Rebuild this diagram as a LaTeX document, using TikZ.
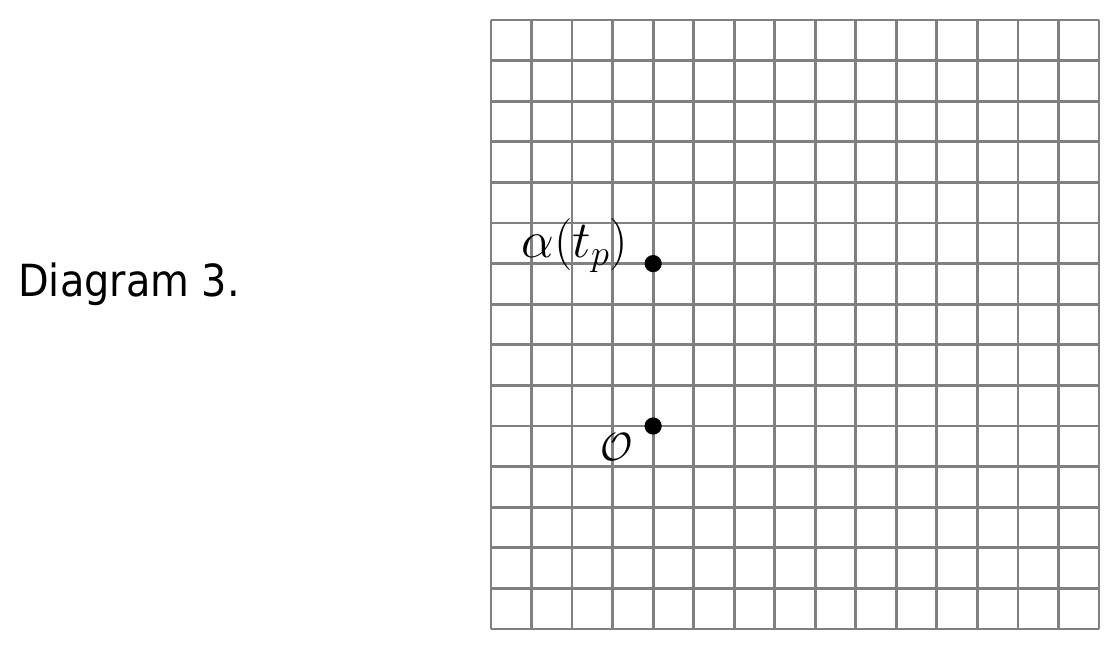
\RequirePackage{fix-cm}
\documentclass[tikz,border=0pt]{standalone}
\usepackage[no-math]{fontspec}
\setmainfont{DejaVu Sans Condensed}
\usepackage{amsmath}
\usepackage{tikz}
\usetikzlibrary{positioning}

\begin{document}
\begin{tikzpicture}[
      gridline/.style={draw=gray, line width=2pt},
      dot/.style={circle, fill=black, minimum size=4.3mm, inner sep=0mm},
      ptlabel/.style={inner sep=0mm}]

      \useasboundingbox (0,0) rectangle (28,16.275);

      \node[anchor=base west, inner sep=0mm, font=\fontsize{31.5}{37}\selectfont]
        (caption) at (0.45,8.85) {Diagram 3.};

      \begin{scope}[shift={(12.275,0.55)}, x=1.0133cm, y=1.015cm]
        \foreach \i in {0,...,15} {
          \draw[gridline] (\i,0) -- (\i,15);
          \draw[gridline] (0,\i) -- (15,\i);
        }
        \node[dot] (alpha) at (4,9) {};
        \node[dot] (origin) at (4,5) {};
      \end{scope}

      \node[ptlabel, anchor=east, xshift=-6.2mm, yshift=4.5mm,
        font=\fontsize{37}{44}\selectfont]
        (alphalabel) at (alpha) {$\alpha(t_p)$};
      \node[ptlabel, anchor=east, xshift=-5mm, yshift=-5.3mm,
        font=\fontsize{28}{34}\selectfont]
        (originlabel) at (origin) {$\mathcal{O}$};
    \end{tikzpicture}
\end{document}
